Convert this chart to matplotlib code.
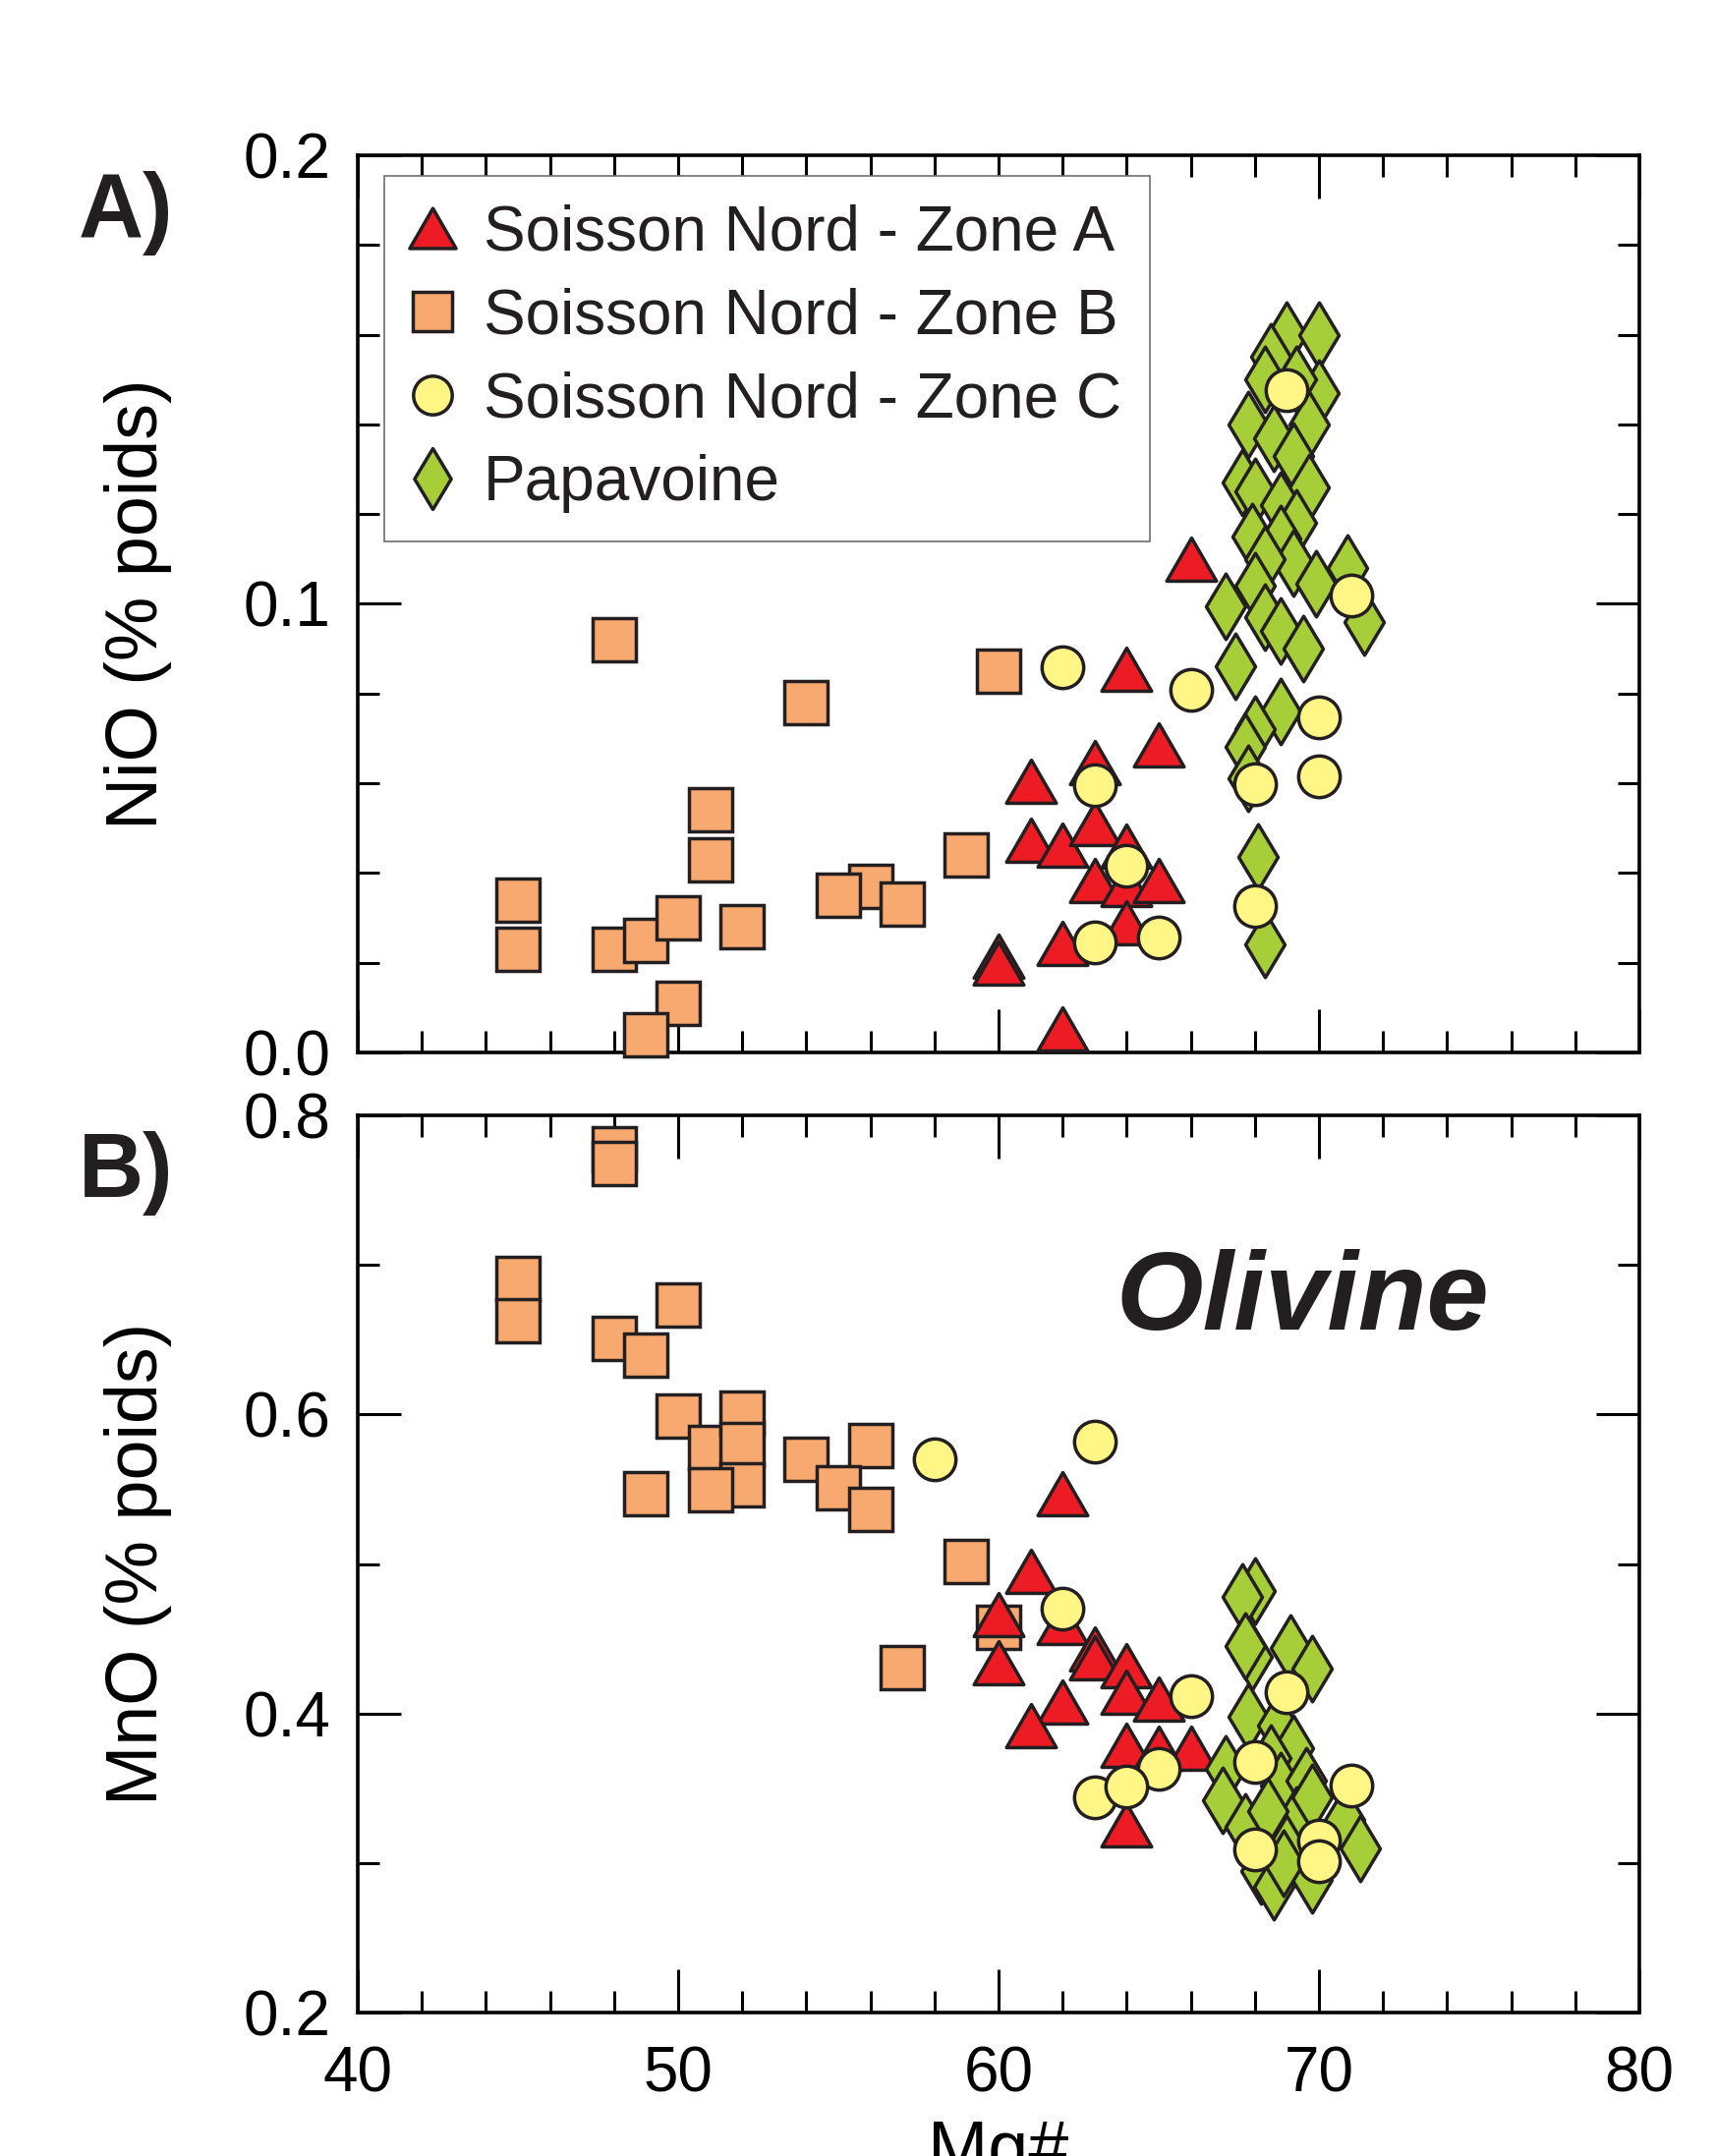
import numpy as np
import matplotlib
matplotlib.use('Agg')
import matplotlib.pyplot as plt
from matplotlib.path import Path
from matplotlib.markers import MarkerStyle
from matplotlib.lines import Line2D
from matplotlib.ticker import MultipleLocator, FormatStrFormatter

plt.rcParams['font.family'] = ['Liberation Sans', 'DejaVu Sans']

# ---- panel A : NiO vs Mg# ----
zoneA_mg_a = [66, 64, 65, 61, 63, 61, 62, 63, 64, 63, 64, 65, 64, 62, 60, 60, 62]
zoneA_nio = [0.110, 0.0855, 0.0685, 0.0605, 0.0645, 0.0474, 0.0463, 0.051, 0.046,
             0.0383, 0.0375, 0.0383, 0.029, 0.0243, 0.0215, 0.020, 0.0053]

zoneB_mg_a = [48, 54, 60, 51, 51, 45, 45, 48, 49, 50, 52, 56, 55, 57, 59, 50, 49]
zoneB_nio = [0.092, 0.078, 0.085, 0.054, 0.043, 0.034, 0.023, 0.023, 0.025, 0.030,
             0.028, 0.037, 0.035, 0.033, 0.044, 0.011, 0.004]

zoneC_mg_a = [62, 66, 63, 64, 63, 65, 70, 70, 68, 68, 71, 69]
zoneC_nio = [0.0859, 0.0808, 0.0596, 0.0416, 0.0245, 0.0256, 0.0747, 0.0616,
             0.0598, 0.0326, 0.1018, 0.1477]

papa_mg_a = [69.0, 70.0, 68.5, 68.3, 70.0, 69.3, 67.8, 69.7, 68.6, 69.2, 67.6, 69.7,
             68.0, 68.8, 69.3, 67.9, 68.8, 69.2, 68.3, 68.0, 69.9, 70.9, 71.4, 67.1,
             68.3, 68.8, 69.5, 67.4, 68.8, 68.0, 67.7, 67.8, 68.1, 68.3]
papa_nio = [0.160, 0.160, 0.155, 0.150, 0.147, 0.150, 0.140, 0.140, 0.137, 0.133,
            0.127, 0.126, 0.125, 0.122, 0.118, 0.115, 0.1145, 0.109, 0.110, 0.104,
            0.1045, 0.108, 0.096, 0.0995, 0.097, 0.094, 0.090, 0.086, 0.076, 0.072,
            0.068, 0.061, 0.0435, 0.024]

# ---- panel B : MnO vs Mg# ----
zoneA_mg_b = [62, 61, 60, 60, 62, 63, 63, 64, 64, 65, 62, 61, 64, 65, 66, 64]
zoneA_mno = [0.547, 0.495, 0.466, 0.434, 0.461, 0.4435, 0.437, 0.432, 0.4146,
             0.4096, 0.408, 0.392, 0.379, 0.377, 0.377, 0.3255]

zoneB_mg_b = [48, 48, 45, 45, 50, 48, 49, 50, 51, 52, 52, 52, 51, 49, 54, 56, 55,
              56, 59, 60, 57]
zoneB_mno = [0.778, 0.768, 0.691, 0.663, 0.673, 0.651, 0.640, 0.599, 0.578, 0.601,
             0.580, 0.553, 0.550, 0.547, 0.570, 0.579, 0.551, 0.5365, 0.502, 0.458,
             0.4305]

zoneC_mg_b = [58, 63, 62, 66, 65, 63, 64, 69, 68, 71, 68, 70, 70]
zoneC_mno = [0.570, 0.582, 0.470, 0.412, 0.363, 0.344, 0.351, 0.4146, 0.3676,
             0.352, 0.309, 0.315, 0.301]

papa_mg_b = [68.0, 67.6, 69.1, 67.9, 67.7, 69.8, 67.8, 68.7, 69.2, 68.5, 67.1, 67.0,
             68.8, 69.6, 69.3, 69.8, 70.8, 71.3, 67.7, 68.2, 68.6, 69.8, 68.4, 69.0,
             68.9]
papa_mno = [0.482, 0.478, 0.444, 0.438, 0.445, 0.430, 0.398, 0.392, 0.377, 0.370,
            0.363, 0.342, 0.352, 0.355, 0.329, 0.344, 0.329, 0.310, 0.324, 0.295,
            0.284, 0.289, 0.335, 0.310, 0.300]

labels = ['Soisson Nord - Zone A', 'Soisson Nord - Zone B',
          'Soisson Nord - Zone C', 'Papavoine']

ink = '#231f20'
red = '#ed1c24'
orange = '#f7a970'
yellow = '#fff685'
green = '#a6ce39'

tri = MarkerStyle(Path([(-1, -0.866), (1, -0.866), (0, 0.866), (0, 0)],
                       [Path.MOVETO, Path.LINETO, Path.LINETO, Path.CLOSEPOLY]),
                  joinstyle='miter')
dia = MarkerStyle(Path([(0, 1), (0.6, 0), (0, -1), (-0.6, 0), (0, 0)],
                       [Path.MOVETO, Path.LINETO, Path.LINETO, Path.LINETO,
                        Path.CLOSEPOLY]),
                  joinstyle='miter')

styles = {
    'A': dict(marker=tri, ms=36.5, mfc=red),
    'B': dict(marker='s', ms=31, mfc=orange),
    'C': dict(marker='o', ms=30.5, mfc=yellow),
    'P': dict(marker=dia, ms=48, mfc=green),
}
mew = 2.5


def draw(ax, key, x, y, z):
    st = styles[key]
    ax.plot(x, y, ls='none', marker=st['marker'], ms=st['ms'], mfc=st['mfc'],
            mec=ink, mew=mew, clip_on=False, zorder=z)


def style_axis(ax, ymaj, ymin):
    for s in ax.spines.values():
        s.set_linewidth(2.6)
    ax.set_xlim(40, 80)
    ax.xaxis.set_major_locator(MultipleLocator(10))
    ax.xaxis.set_minor_locator(MultipleLocator(2))
    ax.yaxis.set_major_locator(MultipleLocator(ymaj))
    ax.yaxis.set_minor_locator(MultipleLocator(ymin))
    ax.yaxis.set_major_formatter(FormatStrFormatter('%.1f'))
    ax.tick_params(which='both', direction='in', top=True, right=True, width=2.2,
                   labelsize=46, color='black')
    ax.tick_params(which='major', length=32)
    ax.tick_params(which='minor', length=16)
    ax.tick_params(axis='y', pad=20)
    ax.tick_params(axis='x', pad=24)


fig = plt.figure(figsize=(17.46, 21.94), dpi=100)
ax1 = fig.add_axes([0.2085, 0.5119, 0.7468, 0.4161])
ax2 = fig.add_axes([0.2085, 0.0665, 0.7468, 0.4161])

draw(ax1, 'B', zoneB_mg_a, zoneB_nio, 3)
draw(ax1, 'A', zoneA_mg_a, zoneA_nio, 4)
draw(ax1, 'P', papa_mg_a, papa_nio, 5)
draw(ax1, 'C', zoneC_mg_a, zoneC_nio, 6)

draw(ax2, 'B', zoneB_mg_b, zoneB_mno, 3)
draw(ax2, 'A', zoneA_mg_b, zoneA_mno, 4)
draw(ax2, 'P', papa_mg_b, papa_mno, 5)
draw(ax2, 'C', zoneC_mg_b, zoneC_mno, 6)

style_axis(ax1, 0.1, 0.02)
ax1.set_ylim(0, 0.2)
ax1.tick_params(axis='x', labelbottom=False)
style_axis(ax2, 0.2, 0.1)
ax2.set_ylim(0.2, 0.8)

ax1.set_ylabel('NiO (% poids)', fontsize=53)
ax1.yaxis.set_label_coords(-0.145, 0.5)
ax2.set_ylabel('MnO (% poids)', fontsize=53)
ax2.yaxis.set_label_coords(-0.145, 0.5)
ax2.set_xlabel('Mg#', fontsize=53)
ax2.xaxis.set_label_coords(0.5, -0.118)

handles = [Line2D([], [], ls='none', marker=styles[k]['marker'], ms=styles[k]['ms'],
                  mfc=styles[k]['mfc'], mec=ink, mew=mew) for k in 'ABCP']
leg = ax1.legend(handles, labels, loc='upper left', bbox_to_anchor=(0.0207, 0.977),
                 borderaxespad=0, fontsize=46, markerscale=0.93, numpoints=1,
                 handlelength=0.64, handletextpad=0.49, borderpad=0.45,
                 labelspacing=0.39, fancybox=False, framealpha=1)
leg.get_frame().set_edgecolor('#6d6e71')
leg.get_frame().set_linewidth(1.2)
leg.set_zorder(10)
for t in leg.get_texts():
    t.set_color(ink)

ax2.text(69.5, 0.657, 'Olivine', fontsize=82, fontweight='bold', fontstyle='italic',
         color=ink, ha='center', va='baseline')

fig.text(80 / 1746, 1 - 174 / 2194, 'A)', fontsize=66, fontweight='bold', color=ink,
         ha='left', va='top')
fig.text(80 / 1746, 1 - 1151 / 2194, 'B)', fontsize=66, fontweight='bold', color=ink,
         ha='left', va='top')

fig.savefig('out.png', dpi=100)
